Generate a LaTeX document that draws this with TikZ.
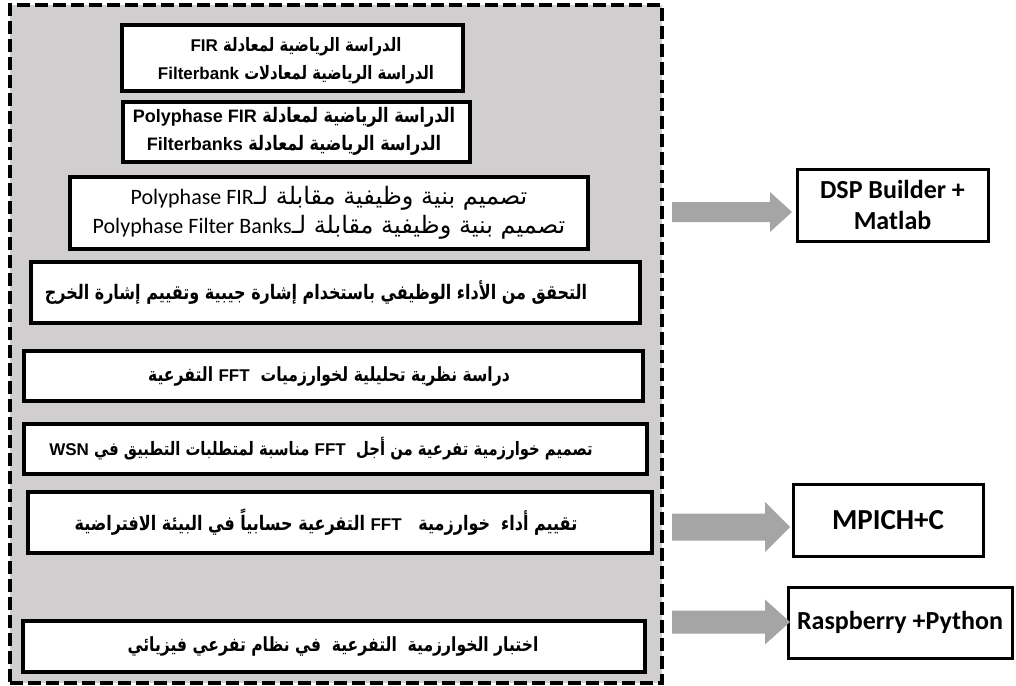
\documentclass[tikz,border=0pt]{standalone}
\usepackage{fontspec}
\usetikzlibrary{calc}
\setmainfont{Liberation Sans}
\newfontfamily\arabicfont[Script=Arabic,FakeStretch=0.8]{DejaVu Sans}
\newfontfamily\arabicwide[Script=Arabic]{DejaVu Sans}
\newfontfamily\calibrifont{Carlito}
\TeXXeTstate=1
\definecolor{panelgray}{HTML}{D0CECE}
\definecolor{arrowgray}{HTML}{A5A5A5}
% size of the Latin runs set inside Arabic lines
\newcommand\latinsize{16}
% a left-to-right Latin run inside right-to-left text
\newcommand\latinrun[1]{\beginL{\normalfont\bfseries\fontsize{\latinsize}{0}\selectfont #1}\endL}
\newcommand\latinplain[1]{\beginL{\calibrifont\fontsize{22}{29}\selectfont #1}\endL}
% wide grey block arrow: start, tip, shaft half-height, head half-height, head length
\newcommand\blockarrow[5]{%
  \fill[arrowgray] let \p1=(#1), \p2=(#2) in
    (\x1,\y1+#3) -- (\x2-#5,\y1+#3) -- (\x2-#5,\y1+#4) -- (\x2,\y2)
    -- (\x2-#5,\y1-#4) -- (\x2-#5,\y1-#3) -- (\x1,\y1-#3) -- cycle;}
\tikzset{
  panel/.style={draw=black, fill=panelgray, line width=4pt,
    dash pattern=on 13pt off 5pt, inner sep=0pt, outer sep=0pt},
  stepbox/.style={draw=black, fill=white, line width=3.5pt,
    inner sep=0pt, outer sep=0pt},
  toolbox/.style={draw=black, fill=white, line width=3pt,
    inner sep=0pt, outer sep=0pt, align=center,
    font=\calibrifont\bfseries\fontsize{26}{31}\selectfont},
  artext/.style 2 args={inner sep=0pt, align=center,
    font=\renewcommand\latinsize{#2}\arabicfont\bfseries\fontsize{#1}{28}\selectfont},
  artextplain/.style={inner sep=0pt, align=center,
    font=\arabicwide\fontsize{24}{29}\selectfont},
}
\begin{document}
\begin{tikzpicture}[x=1pt, y=-1pt]
\useasboundingbox (0,0) rectangle (1016,685);

% dashed grey panel holding the study steps
\node[panel, minimum width=652pt, minimum height=678pt] (frame) at (336,344) {};

% step boxes
\node[stepbox, minimum width=341pt, minimum height=66pt] (b1) at (292.5,58) {};
\node[stepbox, minimum width=347pt, minimum height=60pt] (b2) at (296.5,132) {};
\node[stepbox, minimum width=518pt, minimum height=72pt] (b3) at (329,213) {};
\node[stepbox, minimum width=609pt, minimum height=61pt] (b4) at (335.5,292.5) {};
\node[stepbox, minimum width=619pt, minimum height=50pt] (b5) at (333.5,376) {};
\node[stepbox, minimum width=623pt, minimum height=50pt] (b6) at (335.5,449) {};
\node[stepbox, minimum width=624pt, minimum height=61pt] (b7) at (340,522.5) {};
\node[stepbox, minimum width=622pt, minimum height=51pt] (b8) at (334,646.5) {};

% step texts
\node[artext={18.5}{17}] (t1) at (296,61) {%
  \beginR الدراسة الرياضية لمعادلة \latinrun{FIR}\endR\\
  \beginR الدراسة الرياضية لمعادلات \latinrun{Filterbank}\endR};
\node[artext={20}{18}] (t2) at (294,131) {%
  \beginR الدراسة الرياضية لمعادلة \latinrun{Polyphase FIR}\endR\\
  \beginR الدراسة الرياضية لمعادلة \latinrun{Filterbanks}\endR};
\node[artextplain] (t3) at (329,213) {%
  \beginR تصميم بنية وظيفية مقابلة لـ\latinplain{Polyphase FIR}\endR\\
  \beginR تصميم بنية وظيفية مقابلة لـ\latinplain{Polyphase Filter Banks}\endR};
\node[artext={20}{17}] (t4) at (316,293) {%
  \beginR التحقق من الأداء الوظيفي باستخدام إشارة جيبية وتقييم إشارة الخرج\endR};
\node[artext={19.5}{17}] (t5) at (329,376) {%
  \beginR دراسة نظرية تحليلية لخوارزميات \ \latinrun{FFT} التفرعية\endR};
\node[artext={18.5}{17}] (t6) at (321,449) {%
  \beginR تصميم خوارزمية تفرعية من أجل \ \latinrun{FFT} مناسبة لمتطلبات التطبيق في \latinrun{WSN}\endR};
\node[artext={20}{17}] (t7) at (326,522) {%
  \beginR تقييم أداء \ خوارزمية \ \ \latinrun{FFT} التفرعية حسابياً في البيئة الافتراضية\endR};
\node[artext={19.5}{17}] (t8) at (333,646) {%
  \beginR اختبار الخوارزمية \ التفرعية \ في نظام تفرعي فيزيائي\endR};

% tool boxes
\node[toolbox, minimum width=191pt, minimum height=72pt] (dsp) at (892.5,205) {DSP Builder +\\Matlab};
\node[toolbox, minimum width=190pt, minimum height=72pt,
      font=\calibrifont\bfseries\fontsize{29}{31}\selectfont] (mpich) at (888,520) {MPICH+C};
\node[toolbox, minimum width=224pt, minimum height=71pt] (rasp) at (900,622.5) {Raspberry +Python};

% arrows from the panel to the tools
\coordinate (tip1) at ([xshift=-5pt]dsp.west |- 0,212);
\coordinate (tip2) at ([xshift=-3pt]mpich.west |- 0,527);
\coordinate (tip3) at ([xshift=2pt]rasp.west |- 0,622);
\coordinate (s1) at ([xshift=10pt]frame.east |- tip1);
\coordinate (s2) at ([xshift=10pt]frame.east |- tip2);
\coordinate (s3) at ([xshift=10pt]frame.east |- tip3);
\blockarrow{s1}{tip1}{10pt}{20pt}{22pt}
\blockarrow{s2}{tip2}{13.5pt}{25pt}{25pt}
\blockarrow{s3}{tip3}{11.5pt}{22.5pt}{25pt}
\end{tikzpicture}
\end{document}
